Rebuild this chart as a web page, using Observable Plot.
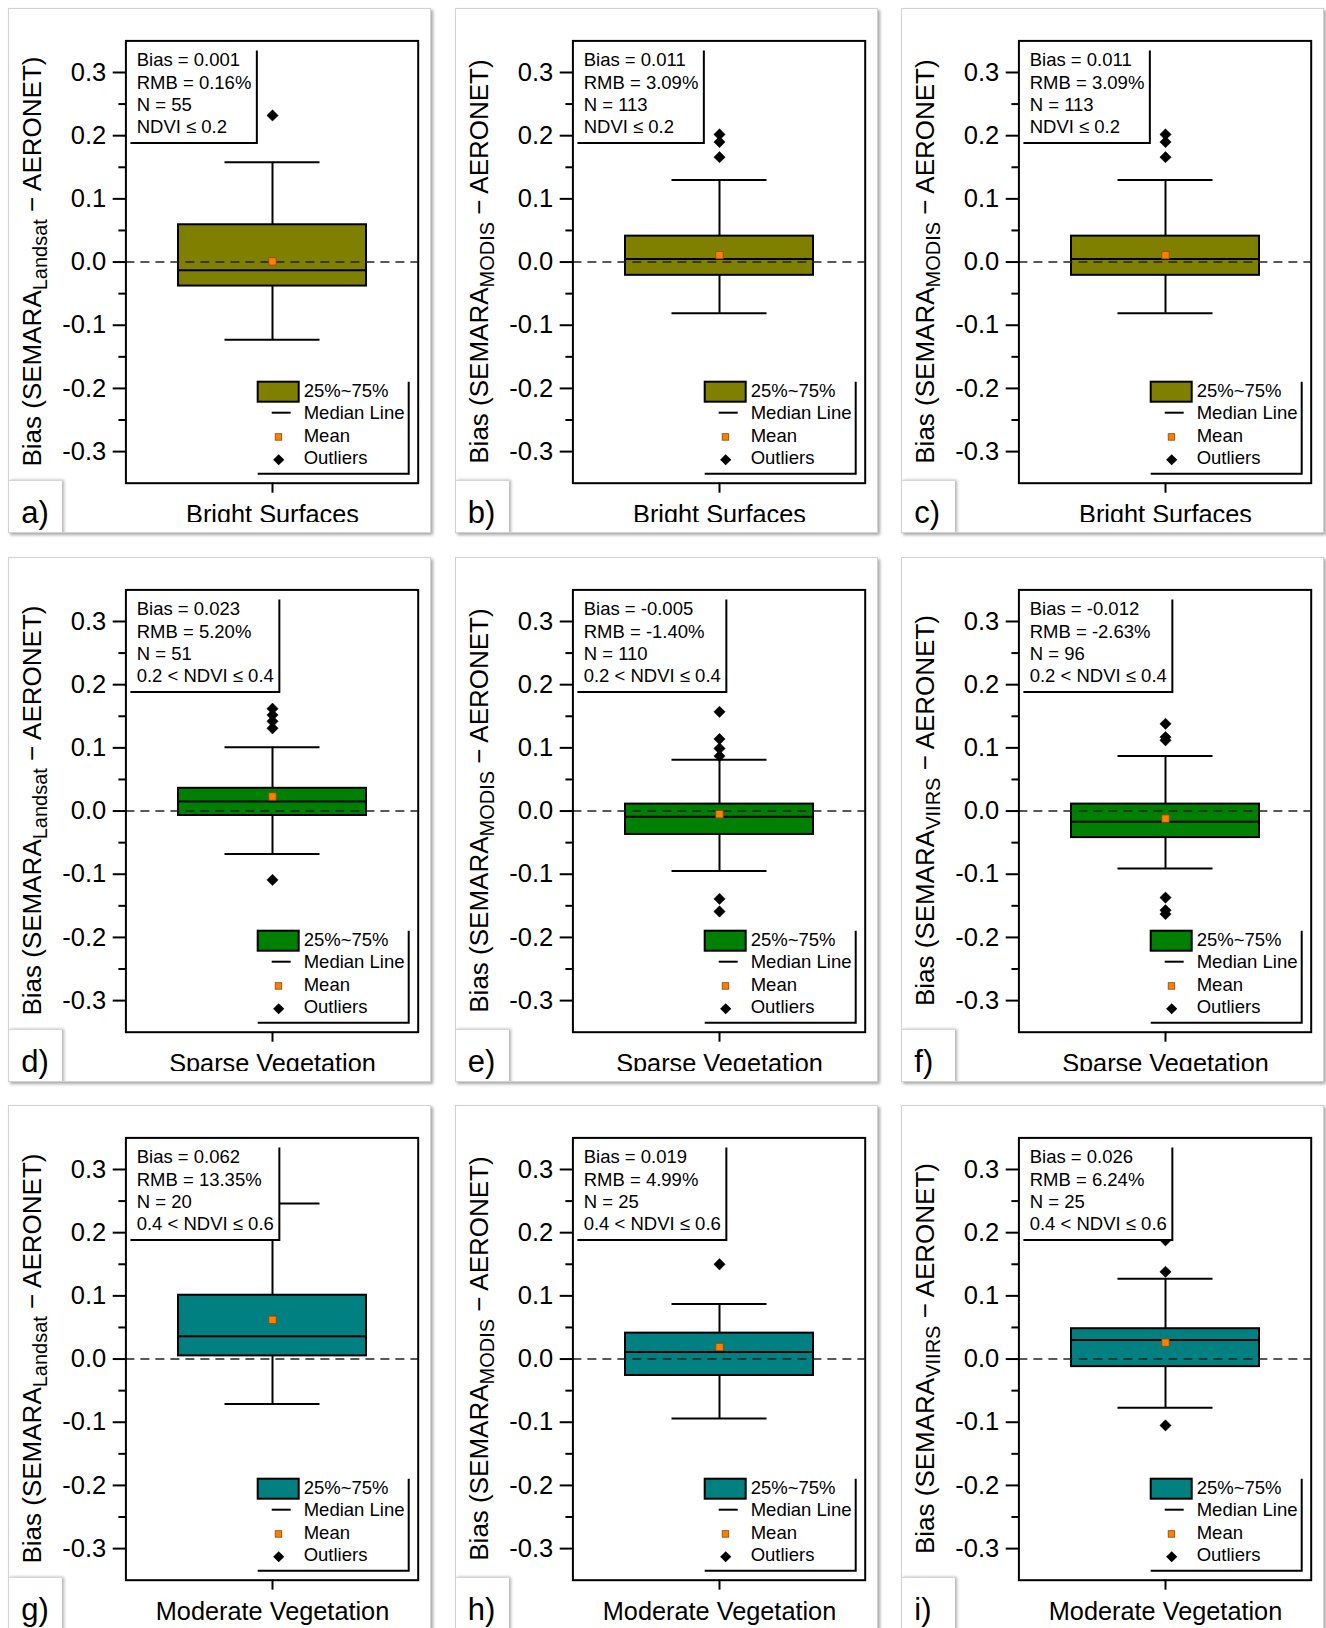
<!DOCTYPE html>
<html>
<head>
<meta charset="utf-8">
<script src="https://cdn.jsdelivr.net/npm/d3@7"></script>
<script src="https://cdn.jsdelivr.net/npm/@observablehq/plot@0.6"></script>
<style>
html,body{margin:0;padding:0;background:#fff;width:1326px;height:1628px;overflow:hidden;}
#root{position:relative;width:1326px;height:1628px;overflow:hidden;}
.card{position:absolute;width:423px;height:525px;background:#fff;border:1px solid #d2d2d2;box-sizing:border-box;box-shadow:2px 2px 3px rgba(0,0,0,0.35);overflow:hidden;}
.card svg{position:absolute;left:-1px;top:-1px;}
.tag{position:absolute;left:-1px;top:471px;width:54px;height:62px;background:#fff;border-top:1px solid #d6d6d6;box-shadow:2px 0 3px rgba(0,0,0,0.3);font-family:'Liberation Sans',Arial,sans-serif;font-size:31px;line-height:31px;z-index:2;}
.tag span{position:absolute;left:13px;top:16px;}
</style>
</head>
<body>
<div id="root"></div>
<script>
// ---------------- data ----------------
const panelLetters = ["a)","b)","c)","d)","e)","f)","g)","h)","i)"];
const surfaceClasses = ["Bright Surfaces","Bright Surfaces","Bright Surfaces",
  "Sparse Vegetation","Sparse Vegetation","Sparse Vegetation",
  "Moderate Vegetation","Moderate Vegetation","Moderate Vegetation"];
const sensors = ["Landsat","MODIS","MODIS","Landsat","MODIS","VIIRS","Landsat","MODIS","VIIRS"];
const whiskerLow  = [-0.123,-0.081,-0.081,-0.068,-0.095,-0.091,-0.071,-0.094,-0.077];
const quartile1   = [-0.038,-0.021,-0.021,-0.007,-0.037,-0.042, 0.005,-0.026,-0.012];
const medians     = [-0.013, 0.005, 0.005, 0.015,-0.009,-0.017, 0.036, 0.011, 0.030];
const quartile3   = [ 0.059, 0.041, 0.041, 0.036, 0.011, 0.011, 0.101, 0.041, 0.048];
const whiskerHigh = [ 0.158, 0.130, 0.130, 0.101, 0.081, 0.087, 0.246, 0.087, 0.127];
const means       = [ 0.001, 0.011, 0.011, 0.023,-0.005,-0.012, 0.062, 0.019, 0.026];
const outliers = [
  [0.232],
  [0.202,0.190,0.166],
  [0.202,0.190,0.166],
  [0.162,0.152,0.142,0.131,-0.109],
  [0.157,0.114,0.099,0.087,-0.139,-0.159],
  [0.138,0.117,0.112,-0.137,-0.157,-0.163],
  [],
  [0.150],
  [0.188,0.138,-0.105]
];
const biasText = ["Bias = 0.001","Bias = 0.011","Bias = 0.011","Bias = 0.023","Bias = -0.005","Bias = -0.012","Bias = 0.062","Bias = 0.019","Bias = 0.026"];
const rmbText  = ["RMB = 0.16%","RMB = 3.09%","RMB = 3.09%","RMB = 5.20%","RMB = -1.40%","RMB = -2.63%","RMB = 13.35%","RMB = 4.99%","RMB = 6.24%"];
const nText    = ["N = 55","N = 113","N = 113","N = 51","N = 110","N = 96","N = 20","N = 25","N = 25"];
const ndviText = ["NDVI ≤ 0.2","NDVI ≤ 0.2","NDVI ≤ 0.2","0.2 < NDVI ≤ 0.4","0.2 < NDVI ≤ 0.4","0.2 < NDVI ≤ 0.4","0.4 < NDVI ≤ 0.6","0.4 < NDVI ≤ 0.6","0.4 < NDVI ≤ 0.6"];
const yTicks = [-0.3,-0.2,-0.1,0,0.1,0.2,0.3];
const yMinorTicks = [-0.25,-0.15,-0.05,0.05,0.15,0.25];
const yDomain = [-0.35,0.35];
const legendLabels = ["25%~75%","Median Line","Mean","Outliers"];

// ---------------- styles / layout ----------------
const classColor = {"Bright Surfaces":"#808000","Sparse Vegetation":"#008000","Moderate Vegetation":"#008080"};
const FONT = "'Liberation Sans', Arial, sans-serif";
const W = 422, FL = 117.4, FT = 32.4, FR = 409.7, FB = 474.7;

const ctx = document.createElement("canvas").getContext("2d");
ctx.font = "18.5px 'Liberation Sans'";
const measure = t => ctx.measureText(t).width;

function statsBox(i) {
  const lines = [biasText[i], rmbText[i], nText[i], ndviText[i]];
  return () => {
    const g = d3.create("svg:g").attr("text-anchor", "start");
    const tx = FL + 11.3;
    const rx = tx + d3.max(lines, measure) + 5.5;
    const by = FT + 102.5;
    g.append("rect").attr("x", FL).attr("y", FT).attr("width", rx - FL).attr("height", by - FT).attr("fill", "white");
    g.append("path").attr("d", `M${FL + 5},${by}H${rx}V${FT + 10}`).attr("fill", "none").attr("stroke", "black").attr("stroke-width", 2);
    lines.forEach((t, k) => g.append("text").attr("x", tx).attr("y", FT + 25.8 + 22.3 * k).attr("font-size", 18.5).attr("fill", "black").attr("text-anchor", "start").text(t));
    return g.node();
  };
}

function legend(color) {
  return () => {
    const g = d3.create("svg:g").attr("text-anchor", "start");
    g.append("path").attr("d", `M${FR - 160},${FB - 9}H${FR - 9}V${FB - 101}`).attr("fill", "none").attr("stroke", "black").attr("stroke-width", 2);
    g.append("rect").attr("x", FR - 160).attr("y", FB - 101).attr("width", 41).attr("height", 20).attr("fill", color).attr("stroke", "black").attr("stroke-width", 2);
    g.append("line").attr("x1", FR - 146).attr("x2", FR - 127).attr("y1", FB - 70).attr("y2", FB - 70).attr("stroke", "black").attr("stroke-width", 2);
    g.append("rect").attr("x", FR - 142.5).attr("y", FB - 49).attr("width", 6.5).attr("height", 6.5).attr("fill", "#ff8000").attr("stroke", "#8a4500").attr("stroke-width", 0.8);
    g.append("path").attr("d", d3.symbol(d3.symbolDiamond2, Math.PI * 5 * 5)()).attr("transform", `translate(${FR - 139},${FB - 23})`).attr("fill", "black");
    const base = [FB - 86, FB - 63.5, FB - 41, FB - 18.5];
    legendLabels.forEach((t, k) => g.append("text").attr("x", FR - 114).attr("y", base[k]).attr("font-size", 18.5).attr("fill", "black").attr("text-anchor", "start").text(t));
    return g.node();
  };
}

function yLabel(i) {
  return () => {
    const t = d3.create("svg:text")
      .attr("transform", `translate(33,${(FT + FB) / 2}) rotate(-90)`)
      .attr("text-anchor", "middle").attr("font-size", 26).attr("fill", "black");
    t.append("tspan").text("Bias (SEMARA");
    t.append("tspan").attr("font-size", 20).attr("dy", 6).text(sensors[i]);
    t.append("tspan").attr("dy", -6).text(" − AERONET)");
    return t.node();
  };
}

const root = document.getElementById("root");
panelLetters.forEach((letter, i) => {
  const row = Math.floor(i / 3), col = i % 3;
  const cat = surfaceClasses[i];
  const color = classColor[cat];
  const H = row === 2 ? 524 : 514;
  const box = [{cat, lo: whiskerLow[i], q1: quartile1[i], med: medians[i], q3: quartile3[i], hi: whiskerHigh[i], mean: means[i]}];
  const outl = outliers[i].map(v => ({cat, v}));

  const chart = Plot.plot({
    width: W, height: H,
    marginLeft: FL, marginRight: W - FR, marginTop: FT, marginBottom: H - FB,
    style: {fontFamily: FONT, background: "transparent", overflow: "hidden", maxWidth: "none", color: "black"},
    x: {type: "band", domain: [cat], padding: 0.217, label: null},
    y: {domain: yDomain, label: null},
    marks: [
      Plot.ruleX(box, {x: "cat", y1: "lo", y2: "hi", stroke: "black", strokeWidth: 2}),
      Plot.tickY(box, {x: "cat", y: "lo", insetLeft: 46.5, insetRight: 46.5, stroke: "black", strokeWidth: 2}),
      Plot.tickY(box, {x: "cat", y: "hi", insetLeft: 46.5, insetRight: 46.5, stroke: "black", strokeWidth: 2}),
      Plot.barY(box, {x: "cat", y1: "q1", y2: "q3", fill: color, stroke: "black", strokeWidth: 2}),
      Plot.tickY(box, {x: "cat", y: "med", stroke: "black", strokeWidth: 2}),
      Plot.ruleY([0], {stroke: "#222", strokeWidth: 1.5, strokeDasharray: "9,6"}),
      Plot.dot(box, {x: "cat", y: "mean", symbol: "square", r: 4.2, fill: "#ff8000", stroke: "#8a4500", strokeWidth: 0.8}),
      Plot.dot(outl, {x: "cat", y: "v", symbol: "diamond2", r: 5.1, fill: "black", stroke: "black", strokeWidth: 0.5}),
      statsBox(i),
      legend(color),
      Plot.frame({stroke: "black", strokeWidth: 2}),
      Plot.axisY(yTicks, {tickSize: 12.7, tickPadding: 7, tickFormat: d => d.toFixed(1), fontSize: 25.5, strokeWidth: 2, label: null}),
      Plot.axisY(yMinorTicks, {tickSize: 7, tickFormat: () => "", strokeWidth: 2, label: null}),
      Plot.axisX({tickSize: 10, tickPadding: 12.3, fontSize: 25.3, strokeWidth: 2, label: null}),
      yLabel(i)
    ]
  });

  const card = document.createElement("div");
  card.className = "card";
  card.style.left = (8.3 + col * 446.5) + "px";
  card.style.top = (8.3 + row * 548.3) + "px";
  card.appendChild(chart);
  const tag = document.createElement("div");
  tag.className = "tag";
  const sp = document.createElement("span");
  sp.textContent = letter;
  tag.appendChild(sp);
  card.appendChild(tag);
  root.appendChild(card);
});
</script>
</body>
</html>
